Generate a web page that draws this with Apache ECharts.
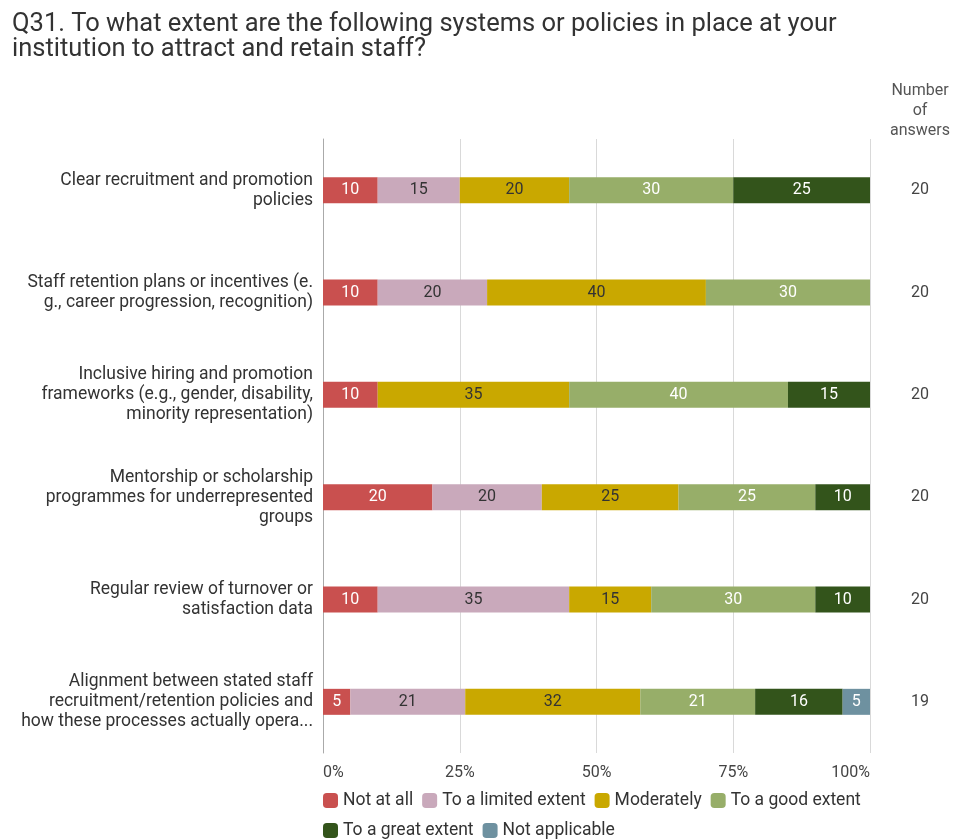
<!DOCTYPE html>
<html>
<head>
<meta charset="utf-8">
<script src="https://cdn.jsdelivr.net/npm/echarts@6/dist/echarts.min.js"></script>
<style>
html,body{margin:0;padding:0;background:#fff;}
#chart{width:954px;height:839px;}
</style>
</head>
<body>
<div id="chart"></div>
<script>
const categories = [
  "Clear recruitment and promotion\npolicies",
  "Staff retention plans or incentives (e.\ng., career progression, recognition)",
  "Inclusive hiring and promotion\nframeworks (e.g., gender, disability,\nminority representation)",
  "Mentorship or scholarship\nprogrammes for underrepresented\ngroups",
  "Regular review of turnover or\nsatisfaction data",
  "Alignment between stated staff\nrecruitment/retention policies and\nhow these processes actually opera..."
];
const answerCounts = ["20", "20", "20", "20", "20", "19"];
const seriesNames = ["Not at all", "To a limited extent", "Moderately", "To a good extent", "To a great extent", "Not applicable"];
const notAtAll = [10, 10, 10, 20, 10, 5];
const limited = [15, 20, 0, 20, 35, 21];
const moderately = [20, 40, 35, 25, 15, 32];
const good = [30, 30, 40, 25, 30, 21];
const great = [25, 0, 15, 10, 10, 16];
const notApplicable = [0, 0, 0, 0, 0, 5];

const seriesValues = [notAtAll, limited, moderately, good, great, notApplicable];
const colors = ["#c9504f", "#c9a9bb", "#c9a800", "#97ae69", "#33541b", "#6e91a0"];
const labelColors = ["#ffffff", "#333333", "#333333", "#ffffff", "#ffffff", "#ffffff"];
const FONT = "Roboto";

const chart = echarts.init(document.getElementById('chart'));
chart.setOption({
  animation: false,
  textStyle: { fontFamily: FONT },
  title: {
    text: "Q31. To what extent are the following systems or policies in place at your\ninstitution to attract and retain staff?",
    left: 7, top: 7,
    textStyle: { fontFamily: FONT, fontSize: 25.5, fontWeight: 'normal', color: '#333', lineHeight: 25 }
  },
  graphic: [{
    type: 'text', x: 920, y: 81,
    style: { text: "Number\nof\nanswers", fontFamily: FONT, fontSize: 16, fill: '#555', textAlign: 'center', lineHeight: 20 }
  }],
  legend: {
    data: seriesNames,
    left: 318, top: 785, width: 570,
    itemWidth: 15, itemHeight: 15, itemGap: 9,
    icon: 'roundRect',
    textStyle: { fontFamily: FONT, fontSize: 17.5, color: '#333', lineHeight: 21 }
  },
  grid: { left: 323, right: 84, top: 139, bottom: 86, containLabel: false },
  xAxis: {
    type: 'value', min: 0, max: 100, interval: 25,
    axisLabel: { formatter: '{value}%', fontFamily: FONT, fontSize: 16, color: '#444', margin: 12,
      alignMinLabel: 'left', alignMaxLabel: 'right' },
    splitLine: { lineStyle: { color: '#d9d9d9', width: 1 } },
    axisLine: { show: false }, axisTick: { show: false }
  },
  yAxis: [{
    type: 'category', data: categories, inverse: true,
    axisLine: { show: true, lineStyle: { color: '#aaaaaa' } },
    axisTick: { show: false },
    axisLabel: { fontFamily: FONT, fontSize: 17.5, color: '#333', lineHeight: 20, margin: 10, align: 'right' }
  }, {
    type: 'category', data: answerCounts, inverse: true, position: 'right',
    axisLine: { show: false }, axisTick: { show: false },
    axisLabel: { fontFamily: FONT, fontSize: 16, color: '#444', margin: 50, align: 'center' }
  }],
  series: seriesNames.map((name, i) => ({
    name: name, type: 'bar', stack: 'total', barWidth: 26,
    yAxisIndex: 0,
    itemStyle: { color: colors[i] },
    label: {
      show: true, position: 'inside', color: labelColors[i],
      fontFamily: FONT, fontSize: 16,
      formatter: p => p.value > 0 ? String(p.value) : ''
    },
    data: seriesValues[i]
  }))
});
</script>
</body>
</html>
